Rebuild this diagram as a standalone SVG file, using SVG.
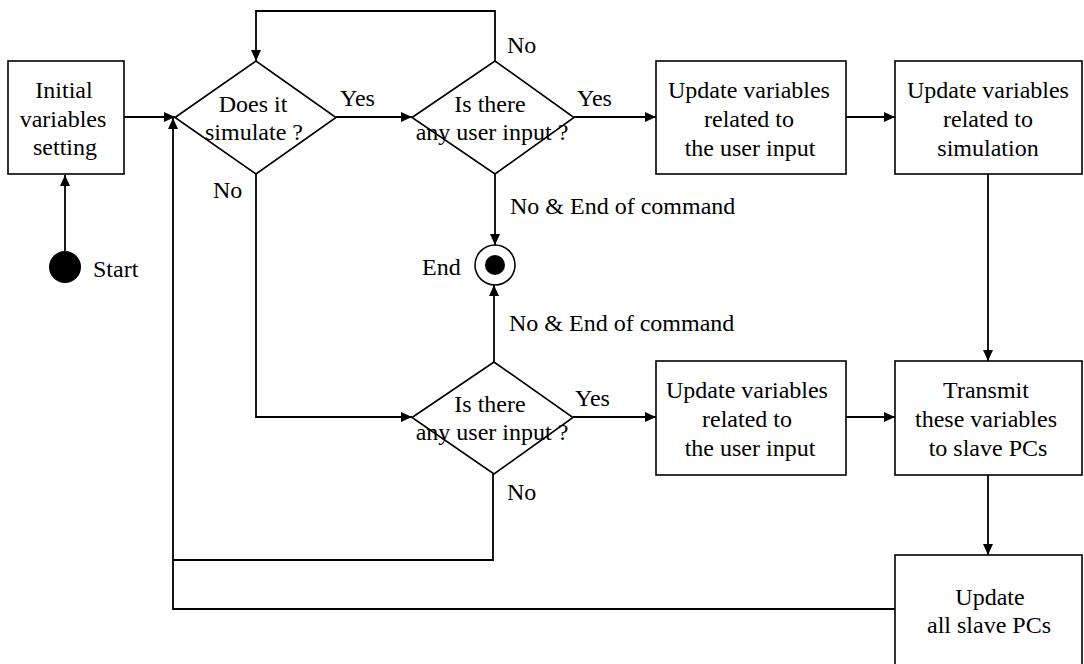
<svg xmlns="http://www.w3.org/2000/svg" width="1084" height="664" viewBox="0 0 1084 664">
<style>
.box{fill:#fff;stroke:#000;stroke-width:1.6}
.dia{fill:none;stroke:#000;stroke-width:1.6}
.t{font-family:"Liberation Serif","Times New Roman",serif;font-size:24px;fill:#000}
.m{text-anchor:middle}
.c{fill:none;stroke:#000;stroke-width:1.8}
</style>
<defs>
<marker id="ah" markerUnits="userSpaceOnUse" markerWidth="12" markerHeight="10" refX="11" refY="5" orient="auto">
<path d="M0,0 L11,5 L0,10 Z" fill="#000"/>
</marker>
</defs>
<rect width="1084" height="664" fill="#fff"/>
<g id="connectors">
<path class="c" d="M65,251 L65,175" marker-end="url(#ah)"/>
<path class="c" d="M124,117 L175,117" marker-end="url(#ah)"/>
<path class="c" d="M336,117 L412,117" marker-end="url(#ah)"/>
<path class="c" d="M574,117 L656,117" marker-end="url(#ah)"/>
<path class="c" d="M846,117 L895,117" marker-end="url(#ah)"/>
<path class="c" d="M988,174 L988,361" marker-end="url(#ah)"/>
<path class="c" d="M988,475 L988,555" marker-end="url(#ah)"/>
<path class="c" d="M895,609 L173,609 L173,118" marker-end="url(#ah)"/>
<path class="c" d="M495,61 L495,11 L256,11 L256,61" marker-end="url(#ah)"/>
<path class="c" d="M495,174 L495,245" marker-end="url(#ah)"/>
<path class="c" d="M256,174 L256,417 L412,417" marker-end="url(#ah)"/>
<path class="c" d="M494,362 L494,285" marker-end="url(#ah)"/>
<path class="c" d="M573,417 L656,417" marker-end="url(#ah)"/>
<path class="c" d="M846,417 L895,417" marker-end="url(#ah)"/>
<path class="c" d="M493,474 L493,560 L173,560"/>
</g>
<g id="start">
<circle cx="65" cy="267" r="16" fill="#000"/>
<text class="t" x="93" y="277">Start</text>
</g>
<g id="init">
<rect class="box" x="8" y="61" width="116" height="113"/>
<text class="t m" x="64" y="98">Initial</text>
<text class="t m" x="63" y="127">variables</text>
<text class="t m" x="65" y="155">setting</text>
</g>
<g id="simulate">
<path class="dia" d="M175,117.5 L256,61 L336,117.5 L256,174 Z"/>
<text class="t m" x="253" y="112">Does it</text>
<text class="t m" x="254" y="140">simulate ?</text>
<text class="t" x="340" y="106">Yes</text>
<text class="t" x="213" y="198">No</text>
</g>
<g id="input1">
<path class="dia" d="M412,117.5 L495,61 L574,117.5 L495,174 Z"/>
<text class="t m" x="490" y="112">Is there</text>
<text class="t m" x="492" y="140">any user input ?</text>
<text class="t" x="507" y="53">No</text>
<text class="t" x="577" y="106">Yes</text>
<text class="t" x="510" y="214">No &amp; End of command</text>
</g>
<g id="end">
<circle cx="495" cy="265" r="20" fill="#fff" stroke="#000" stroke-width="1.6"/>
<circle cx="495" cy="265" r="10" fill="#000"/>
<text class="t" x="422" y="275">End</text>
</g>
<g id="input2">
<path class="dia" d="M412,417.5 L494,362 L573,417.5 L494,474 Z"/>
<text class="t m" x="490" y="412">Is there</text>
<text class="t m" x="492" y="440">any user input ?</text>
<text class="t" x="575" y="406">Yes</text>
<text class="t" x="507" y="500">No</text>
<text class="t" x="509" y="331">No &amp; End of command</text>
</g>
<g id="update-user-1">
<rect class="box" x="656" y="61" width="190" height="113"/>
<text class="t m" x="749" y="98">Update variables</text>
<text class="t m" x="749" y="127">related to</text>
<text class="t m" x="750" y="156">the user input</text>
</g>
<g id="update-sim">
<rect class="box" x="895" y="61" width="187" height="113"/>
<text class="t m" x="988" y="98">Update variables</text>
<text class="t m" x="988" y="127">related to</text>
<text class="t m" x="988" y="156">simulation</text>
</g>
<g id="update-user-2">
<rect class="box" x="656" y="361" width="190" height="114"/>
<text class="t m" x="747" y="398">Update variables</text>
<text class="t m" x="747" y="427">related to</text>
<text class="t m" x="750" y="456">the user input</text>
</g>
<g id="transmit">
<rect class="box" x="895" y="361" width="187" height="114"/>
<text class="t m" x="986" y="398">Transmit</text>
<text class="t m" x="986" y="427">these variables</text>
<text class="t m" x="988" y="456">to slave PCs</text>
</g>
<g id="update-slaves">
<rect class="box" x="895" y="555" width="187" height="120"/>
<text class="t m" x="990" y="605">Update</text>
<text class="t m" x="989" y="633">all slave PCs</text>
</g>
</svg>
